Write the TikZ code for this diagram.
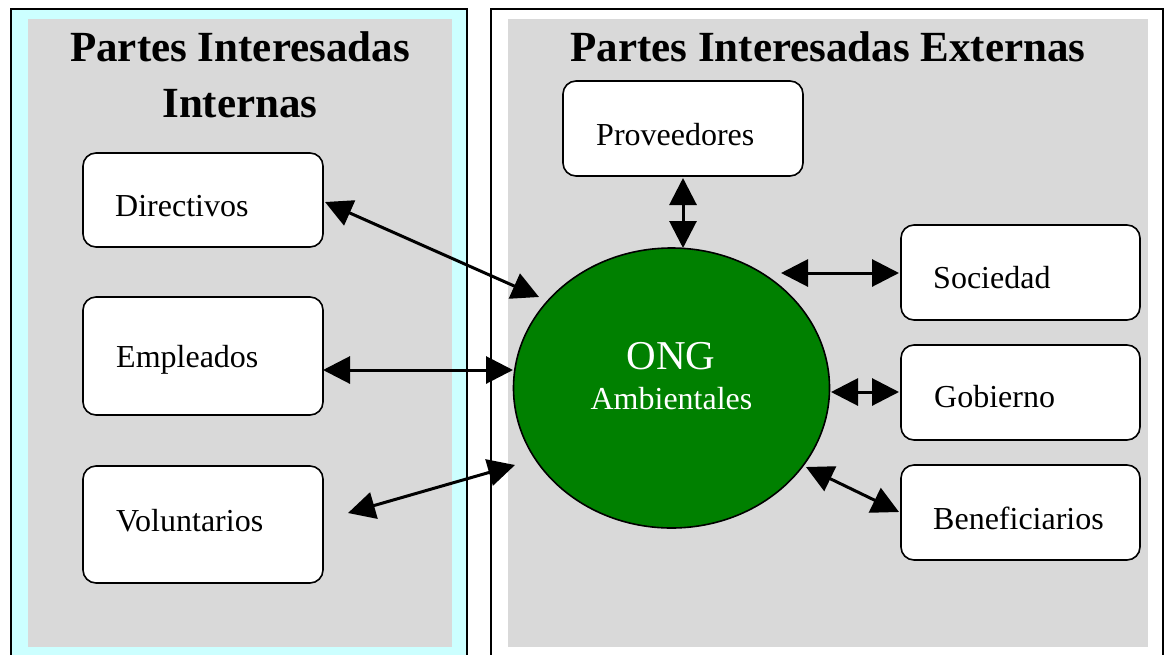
\documentclass[tikz,border=0pt]{standalone}
\usepackage{fontspec}
\setmainfont{Liberation Serif}
\usetikzlibrary{arrows.meta,shapes.geometric}
\definecolor{cyanbg}{HTML}{CCFFFF}
\definecolor{graybg}{HTML}{D9D9D9}
\definecolor{ongreen}{HTML}{008000}
\tikzset{
  outerbox/.style={draw=black, line width=2pt},
  innerbg/.style={fill=graybg, draw=none},
  stake/.style={draw=black, fill=white, line width=1.6pt, rounded corners=13pt, inner sep=0pt},
  lbl/.style={anchor=base west, inner sep=0pt, font=\fontsize{32}{38}\selectfont},
  ttl/.style={anchor=base, inner sep=0pt, font=\fontsize{43}{52}\selectfont\bfseries},
  link/.style={line width=3pt, {Triangle[length=27pt,width=27pt]}-{Triangle[length=27pt,width=27pt]}}
}
\begin{document}
\begin{tikzpicture}[x=1pt,y=-1pt]
\useasboundingbox (0,0) rectangle (1164,654);
\clip (0,0) rectangle (1164,654);
% outer frames
\draw[outerbox, fill=cyanbg] (11,9) rectangle (467,670);
\draw[outerbox, fill=white] (491,9) rectangle (1163,670);
\fill[innerbg] (28,19) rectangle (452,647);
\fill[innerbg] (508,19) rectangle (1148,647);
% titles
\node[ttl] (t1) at (240,61) {Partes Interesadas};
\node[ttl] (t2) at (240,117) {Internas};
\node[ttl] (t3) at (828,61) {Partes Interesadas Externas};
% boxes
\node[stake, minimum width=240pt, minimum height=94pt] (dirbox) at (203,200) {};
\node[stake, minimum width=240pt, minimum height=118pt] (empbox) at (203,356) {};
\node[stake, minimum width=240pt, minimum height=117pt] (volbox) at (203,524.5) {};
\node[stake, minimum width=240pt, minimum height=95pt] (probox) at (683,128.5) {};
\node[stake, minimum width=239pt, minimum height=95pt] (socbox) at (1020.5,272.5) {};
\node[stake, minimum width=239pt, minimum height=95pt] (gobbox) at (1020.5,392.5) {};
\node[stake, minimum width=239pt, minimum height=95pt] (benbox) at (1020.5,512.5) {};
\node[lbl] (dir) at (115,216) {Directivos};
\node[lbl] (emp) at (116,367) {Empleados};
\node[lbl] (vol) at (116,531) {Voluntarios};
\node[lbl] (pro) at (596,145) {Proveedores};
\node[lbl] (soc) at (933,288) {Sociedad};
\node[lbl] (gob) at (934,407) {Gobierno};
\node[lbl] (ben) at (933,529) {Beneficiarios};
% center
\node[draw=black, line width=1.6pt, fill=ongreen, ellipse, minimum width=316pt, minimum height=280pt, inner sep=0pt] (ong) at (671.5,388) {};
\node[anchor=base, inner sep=0pt, text=white, font=\fontsize{41}{48}\selectfont] (ongt) at (671,369) {ONG};
\node[anchor=base, inner sep=0pt, text=white, font=\fontsize{32}{38}\selectfont] (amb) at (671.5,409) {Ambientales};
% connector end points
\coordinate (a1) at (325,202); \coordinate (b1) at (539,297);
\coordinate (a2) at (323,370); \coordinate (b2) at (513,370);
\coordinate (a3) at (348,513); \coordinate (b3) at (515,465);
\coordinate (a4) at (683,178); \coordinate (b4) at (683,248);
\coordinate (a5) at (781,273); \coordinate (b5) at (899,273);
\coordinate (a6) at (831,392); \coordinate (b6) at (899,392);
\coordinate (a7) at (806,467); \coordinate (b7) at (899,512);
\foreach \i in {1,...,7} { \draw[link] (a\i) -- (b\i); }
\end{tikzpicture}
\end{document}
